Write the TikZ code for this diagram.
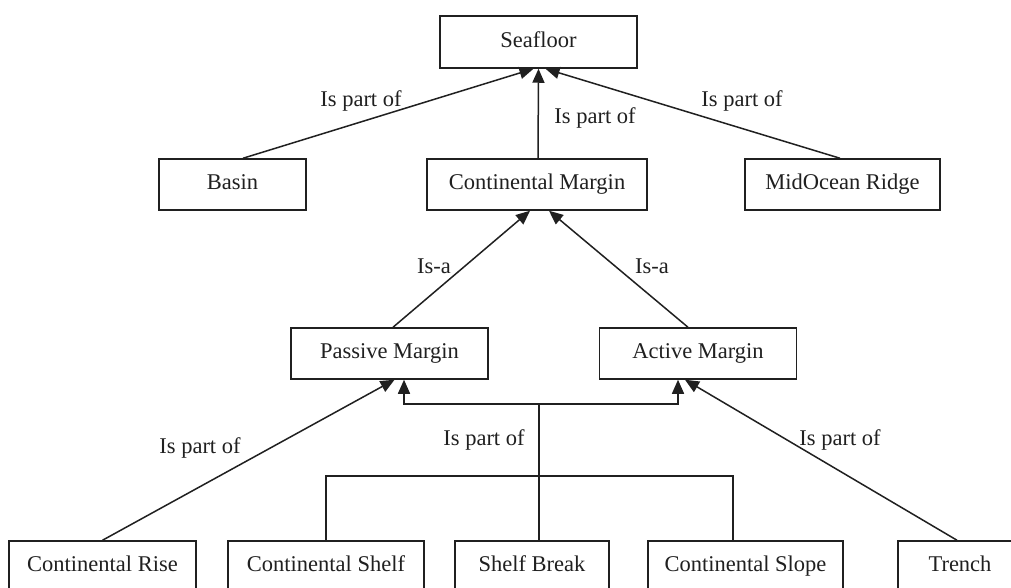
\documentclass[tikz,border=0pt]{standalone}
\usepackage{fontspec}
\setmainfont{Liberation Serif}
\usetikzlibrary{arrows.meta}
\definecolor{ink}{HTML}{202020}
\tikzset{
  box/.style={draw=ink, line width=1.5pt, fill=white, minimum height=51pt, inner sep=0pt, text=ink,
    text height=15.5pt, text depth=5pt, font=\fontsize{22.5}{27}\selectfont},
  lbl/.style={text=ink, inner sep=0pt, font=\fontsize{22.5}{27}\selectfont},
  conn/.style={draw=ink, line width=1.5pt},
  arr/.style={conn, -{Triangle[length=14pt,width=12pt]}},
}
\begin{document}
\begin{tikzpicture}[x=1pt,y=-1pt]
\useasboundingbox (0,0) rectangle (1011,588);
\clip (0,0) rectangle (1011,588);
\fill[white] (0,0) rectangle (1011,588);
% boxes
\node[box, minimum width=197pt, minimum height=52pt] (sea) at (538.5,42) {Seafloor};
\node[box, minimum width=147pt] (basin) at (232.5,184.5) {Basin};
\node[box, minimum width=220pt] (cm) at (537,184.5) {Continental Margin};
\node[box, minimum width=195pt] (mor) at (842.5,184.5) {MidOcean Ridge};
\node[box, minimum width=197pt] (pm) at (389.5,353.5) {Passive Margin};
\node[box, minimum width=197pt] (am) at (698,353.5) {Active Margin};
\node[box, minimum width=187pt] (cr) at (102.5,566.5) {Continental Rise};
\node[box, minimum width=196pt] (cs) at (326,566.5) {Continental Shelf};
\node[box, minimum width=154pt] (sb) at (532,566.5) {Shelf Break};
\node[box, minimum width=195pt] (cl) at (745.5,566.5) {Continental Slope};
\node[box, minimum width=124pt] (tr) at (960,566.5) {Trench};
% junction points
\coordinate (j1) at (539,404);
\coordinate (j2) at (326,476);
\coordinate (j3) at (733,476);
% connectors
\draw[arr] ([xshift=10.5pt]basin.north) -- ([xshift=-5pt]sea.south);
\draw[arr] ([xshift=1pt]cm.north) -- ([xshift=0pt]sea.south);
\draw[arr] ([xshift=-2.5pt]mor.north) -- ([xshift=7pt]sea.south);
\draw[arr] ([xshift=3.5pt]pm.north) -- ([xshift=-7pt]cm.south);
\draw[arr] ([xshift=-10pt]am.north) -- ([xshift=12pt]cm.south);
\draw[arr] (cr.north) -- ([xshift=5pt]pm.south);
\draw[arr] ([xshift=-3pt]tr.north) -- ([xshift=-13pt]am.south);
\draw[conn] ([xshift=7pt]sb.north) -- (j1);
\draw[arr] (j1) -| ([xshift=14.5pt]pm.south);
\draw[arr] (j1) -| ([xshift=-20pt]am.south);
\draw[conn] (cs.north) -- (j2) -- (j3) -- ([xshift=-12.5pt]cl.north);
% labels
\node[lbl] (l1) at (361,101) {Is part of};
\node[lbl] (l2) at (595,118) {Is part of};
\node[lbl] (l3) at (742,101) {Is part of};
\node[lbl] (l4) at (434,266) {Is-a};
\node[lbl] (l5) at (652,266) {Is-a};
\node[lbl] (l6) at (200,448) {Is part of};
\node[lbl] (l7) at (484,440) {Is part of};
\node[lbl] (l8) at (840,440) {Is part of};
\end{tikzpicture}
\end{document}
